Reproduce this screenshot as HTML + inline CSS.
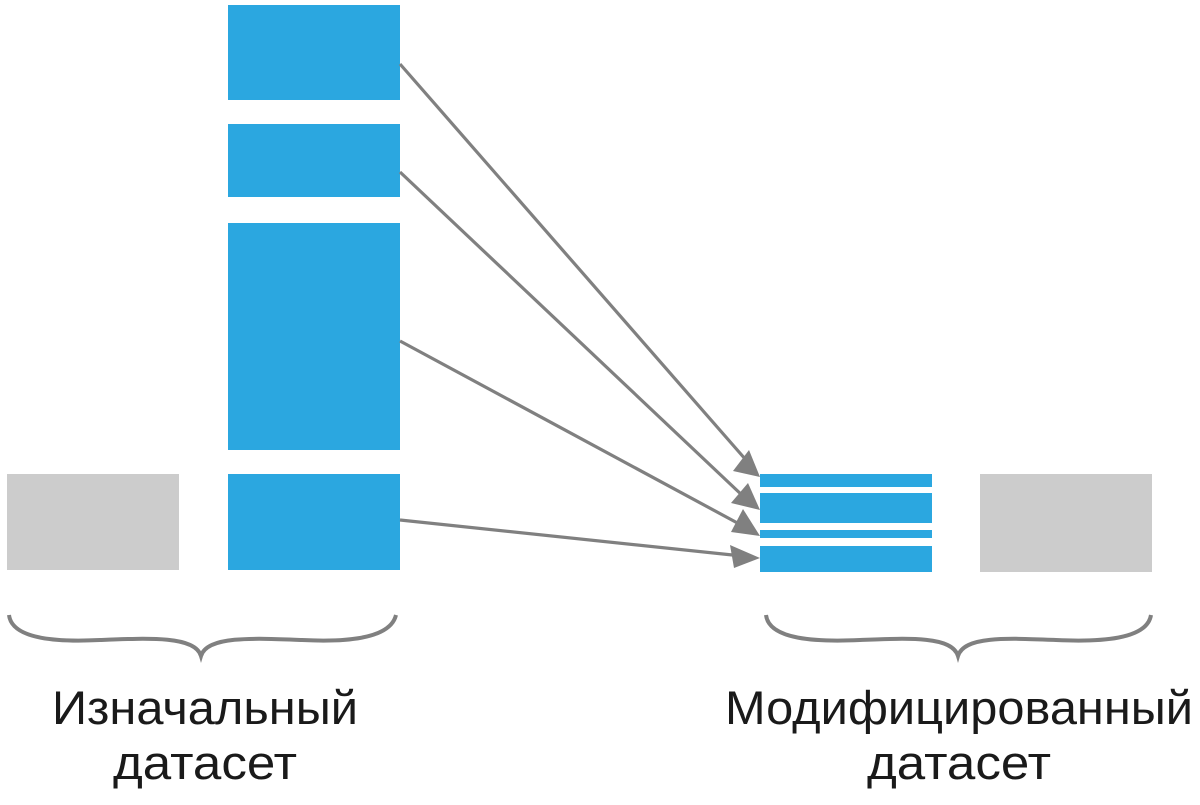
<!DOCTYPE html>
<html><head><meta charset="utf-8"><style>html,body{margin:0;padding:0;background:#fff}</style></head>
<body>
<svg width="1200" height="800" viewBox="0 0 1200 800" xmlns="http://www.w3.org/2000/svg">
<g fill="#cccccc">
<rect x="7" y="474" width="172" height="96"/>
<rect x="980" y="474" width="172" height="98"/>
</g>
<g fill="#2ba7e0">
<rect x="228" y="5" width="172" height="95"/>
<rect x="228" y="124" width="172" height="73"/>
<rect x="228" y="223" width="172" height="227"/>
<rect x="228" y="474" width="172" height="96"/>
<rect x="760" y="474" width="172" height="13"/>
<rect x="760" y="493" width="172" height="30"/>
<rect x="760" y="530" width="172" height="8"/>
<rect x="760" y="546" width="172" height="26"/>
</g>
<g stroke="#808080" stroke-width="3.2" fill="none">
<line x1="400" y1="64" x2="746" y2="460"/>
<line x1="400" y1="172" x2="744" y2="497"/>
<line x1="400" y1="341" x2="743" y2="526"/>
<line x1="400" y1="520" x2="742" y2="556"/>
<path d="M9 615 C12 640 60 642 100 640 C150 638 195 636 201 656 C207 636 252 638 302 640 C342 642 390 640 396 615" stroke-width="4"/>
<path d="M766 615 C769 640 817 642 860 640 C910 638 952 636 958 656 C964 636 1006 638 1056 640 C1099 642 1147 640 1151 615" stroke-width="4"/>
</g>
<g fill="#808080">
<polygon points="760,477 733,471 749,450"/>
<polygon points="760,510 731,503 748,483"/>
<polygon points="760,536 731,532 743,509"/>
<polygon points="760,558 734,568 730,545"/>
</g>
<g font-family="Liberation Sans, DejaVu Sans, sans-serif" font-size="47" fill="#1a1a1a" text-anchor="middle">
<text x="205" y="724" textLength="306" lengthAdjust="spacingAndGlyphs">Изначальный</text>
<text x="205" y="779" textLength="184" lengthAdjust="spacingAndGlyphs">датасет</text>
<text x="959" y="724" textLength="468" lengthAdjust="spacingAndGlyphs">Модифицированный</text>
<text x="959" y="779" textLength="184" lengthAdjust="spacingAndGlyphs">датасет</text>
</g>
</svg>
</body></html>
